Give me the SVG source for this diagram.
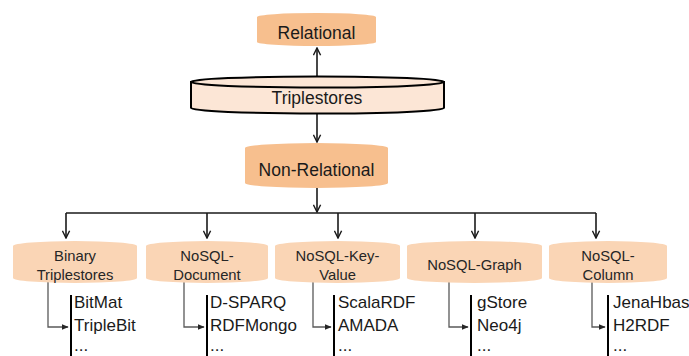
<svg xmlns="http://www.w3.org/2000/svg" width="689" height="356" viewBox="0 0 689 356">
  <style>
    .main { fill: #F7BF8E; }
    .sub { fill: #FAD5B5; }
    .t { font-family: "Liberation Sans", Arial, sans-serif; fill: #1a1a1a; }
    .big { font-size: 17.5px; text-anchor: middle; }
    .mid { font-size: 14.8px; text-anchor: middle; fill: #262626; }
    .item { font-size: 17px; }
    .conn { stroke: #1a1a1a; stroke-width: 1.6; fill: none; }
    .elbow { stroke: #595959; stroke-width: 1.3; fill: none; }
    .bar { stroke: #000; stroke-width: 2; }
  </style>
  <defs>
    <marker id="open" viewBox="0 0 10 10" refX="9" refY="5" markerWidth="9" markerHeight="9" markerUnits="userSpaceOnUse" orient="auto">
      <path d="M1,1 L9,5 L1,9" fill="none" stroke="#1a1a1a" stroke-width="1.6"/>
    </marker>
    <marker id="solid" viewBox="0 0 10 10" refX="9" refY="5" markerWidth="7" markerHeight="7" markerUnits="userSpaceOnUse" orient="auto">
      <path d="M0,1 L10,5 L0,9 Z" fill="#262626"/>
    </marker>
    <filter id="soft" x="-5%" y="-20%" width="110%" height="140%">
      <feGaussianBlur stdDeviation="0.7"/>
    </filter>
  </defs>

  <!-- connectors -->
  <g id="connectors">
    <line class="conn" x1="317" y1="80" x2="317" y2="48" marker-end="url(#open)"/>
    <line class="conn" x1="317" y1="113" x2="317" y2="142" marker-end="url(#open)"/>
    <line class="conn" x1="317" y1="188" x2="317" y2="212" marker-end="url(#open)"/>
    <line class="conn" x1="66" y1="213" x2="596" y2="213"/>
    <line class="conn" x1="66" y1="213" x2="66" y2="238" marker-end="url(#open)"/>
    <line class="conn" x1="207" y1="213" x2="207" y2="238" marker-end="url(#open)"/>
    <line class="conn" x1="338" y1="213" x2="338" y2="238" marker-end="url(#open)"/>
    <line class="conn" x1="475" y1="213" x2="475" y2="238" marker-end="url(#open)"/>
    <line class="conn" x1="596" y1="213" x2="596" y2="238" marker-end="url(#open)"/>
    <!-- elbows into the lists -->
    <path class="elbow" d="M48,282 V327 H68" marker-end="url(#solid)"/>
    <path class="elbow" d="M184,282 V327 H204" marker-end="url(#solid)"/>
    <path class="elbow" d="M313,282 V327 H331" marker-end="url(#solid)"/>
    <path class="elbow" d="M449,282 V327 H468" marker-end="url(#solid)"/>
    <path class="elbow" d="M592,282 V327 H605" marker-end="url(#solid)"/>
  </g>

  <g id="relational">
    <path class="main" filter="url(#soft)" d="M257,17 L257,42 A59.5 4 0 0 0 376,42 L376,17 A59.5 4 0 0 0 257,17 Z"/>
    <text class="t big" x="316.5" y="39">Relational</text>
  </g>

  <g id="triplestores">
    <path d="M191,82 L191,108 A126.5 5.5 0 0 0 444,108 L444,82 Z" fill="#FCE6D6" stroke="#000" stroke-width="2"/>
    <ellipse cx="317.5" cy="82" rx="126.5" ry="5.5" fill="#FCE6D6" stroke="#000" stroke-width="2"/>
    <text class="t big" x="317" y="104">Triplestores</text>
  </g>

  <g id="non-relational">
    <path class="main" filter="url(#soft)" d="M245,148 L245,183 A71.5 5 0 0 0 388,183 L388,148 A71.5 5 0 0 0 245,148 Z"/>
    <text class="t big" x="316.5" y="176">Non-Relational</text>
  </g>

  <g id="binary">
    <path class="sub" filter="url(#soft)" d="M13,246 L13,278 A62 5 0 0 0 137,278 L137,246 A62 5 0 0 0 13,246 Z"/>
    <text class="t mid" x="75" y="261">Binary</text>
    <text class="t mid" x="75" y="280">Triplestores</text>
    <line class="bar" x1="71" y1="295" x2="71" y2="356"/>
    <text class="t item" x="74" y="308">BitMat</text>
    <text class="t item" x="74" y="331">TripleBit</text>
    <text class="t item" x="74" y="351">...</text>
  </g>

  <g id="nosql-document">
    <path class="sub" filter="url(#soft)" d="M146,246 L146,278 A61 5 0 0 0 268,278 L268,246 A61 5 0 0 0 146,246 Z"/>
    <text class="t mid" x="207" y="261">NoSQL-</text>
    <text class="t mid" x="207" y="280">Document</text>
    <line class="bar" x1="207" y1="295" x2="207" y2="356"/>
    <text class="t item" x="210" y="308">D-SPARQ</text>
    <text class="t item" x="210" y="331">RDFMongo</text>
    <text class="t item" x="210" y="351">...</text>
  </g>

  <g id="nosql-key-value">
    <path class="sub" filter="url(#soft)" d="M275,246 L275,278 A62.5 5 0 0 0 400,278 L400,246 A62.5 5 0 0 0 275,246 Z"/>
    <text class="t mid" x="337.5" y="261">NoSQL-Key-</text>
    <text class="t mid" x="337.5" y="280">Value</text>
    <line class="bar" x1="334" y1="295" x2="334" y2="356"/>
    <text class="t item" x="338" y="308">ScalaRDF</text>
    <text class="t item" x="338" y="331">AMADA</text>
    <text class="t item" x="338" y="351">...</text>
  </g>

  <g id="nosql-graph">
    <path class="sub" filter="url(#soft)" d="M407,246 L407,278 A67.5 5 0 0 0 542,278 L542,246 A67.5 5 0 0 0 407,246 Z"/>
    <text class="t mid" x="474.5" y="270">NoSQL-Graph</text>
    <line class="bar" x1="471" y1="295" x2="471" y2="356"/>
    <text class="t item" x="477" y="308">gStore</text>
    <text class="t item" x="477" y="331">Neo4j</text>
    <text class="t item" x="477" y="351">...</text>
  </g>

  <g id="nosql-column">
    <path class="sub" filter="url(#soft)" d="M549,246 L549,278 A59 5 0 0 0 667,278 L667,246 A59 5 0 0 0 549,246 Z"/>
    <text class="t mid" x="608" y="261">NoSQL-</text>
    <text class="t mid" x="608" y="280">Column</text>
    <line class="bar" x1="608" y1="295" x2="608" y2="356"/>
    <text class="t item" x="613" y="308">JenaHbas</text>
    <text class="t item" x="613" y="331">H2RDF</text>
    <text class="t item" x="613" y="351">...</text>
  </g>
</svg>
